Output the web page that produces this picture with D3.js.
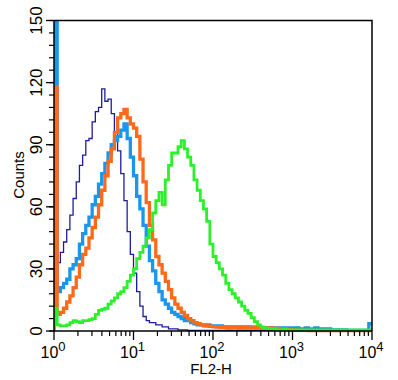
<!DOCTYPE html>
<html>
<head>
<meta charset="utf-8">
<script src="https://cdn.jsdelivr.net/npm/d3@7/dist/d3.min.js"></script>
<style>
  html, body { margin: 0; padding: 0; background: #fff; }
  svg { display: block; }
  text { font-family: "Liberation Sans", Arial, Helvetica, sans-serif; fill: #000; }
</style>
</head>
<body>
<div id="chart"></div>
<script>
// ---------- DATA ----------
// 100 histogram bins, each 0.04 decade wide, from 10^0 to 10^4 (FL2-H)
const binCount = 100;
const binDecade = 0.04;
const xTickExponents = [0, 1, 2, 3, 4];
const yTickValues = [0, 30, 60, 90, 120, 150];

const navySeries = [
  60, 33, 38, 43, 49, 56, 64, 72, 80, 85,
  92, 93, 101, 106, 108, 117, 111, 112, 105, 96,
  87, 76, 63, 48, 37, 28, 19, 12, 7, 5,
  4, 4, 3, 3, 2, 2, 1, 1, 1, 0.5,
  0.5, 0.5, 0.3, 0.3, 0.3, 0.3, 0.3, 0.3, 0.3, 0.3,
  0.3, 0.3, 0.3, 0.3, 0.3, 0.3, 0.3, 0.3, 0.3, 0.3,
  0.3, 0.3, 0.3, 0.3, 0.3, 0.3, 0.3, 0.3, 0.3, 0.3,
  0.2, 0.2, 0.2, 0.2, 0.2, 0.2, 0.2, 0.2, 0.2, 0.2,
  0.2, 0.2, 0.2, 0.2, 0.2, 0.2, 0.2, 0.2, 0.2, 0.2,
  0.2, 0.2, 0.2, 0.2, 0.2, 0.2, 0.2, 0.2, 0.2, 0.2
];

const blueSeries = [
  160, 19, 21, 23, 25, 30, 32, 35, 42, 47,
  51, 55, 61, 65, 71, 76, 81, 86, 90, 92,
  94, 97, 100, 93, 84, 75, 65, 59, 51, 41,
  34, 29, 23, 19, 15, 13, 11, 9, 8, 7,
  6, 5, 5, 4, 3.5, 3, 3, 2.5, 3, 2.5,
  2.5, 2, 2.5, 2, 2, 1.5, 2, 2, 1.5, 2,
  1.5, 2, 1.5, 1.5, 2, 1.5, 1.5, 1, 1.5, 1.5,
  1.5, 1, 1.5, 1, 1.5, 1, 1.5, 1, 1, 1.5,
  1, 1, 1.5, 1, 1, 0.5, 1, 0.5, 0.5, 0.5,
  0.5, 0.5, 0.3, 0.3, 0.3, 0.3, 0.3, 0.3, 0.3, 3.5
];

const orangeSeries = [
  118, 8, 9, 11, 14, 17, 21, 26, 32, 37,
  40, 45, 50, 55, 61, 68, 75, 82, 88, 96,
  103, 105, 107, 103, 100, 98, 94, 83, 72, 62,
  51, 44, 36, 32, 28, 24, 20, 16, 13, 11,
  9, 7.5, 6, 5, 4, 3.5, 3, 2.7, 2.5, 2.2,
  2, 2, 1.8, 2, 1.5, 2, 1.8, 1.5, 2, 1.5,
  1.8, 1.5, 1.5, 2, 1.5, 1.5, 1.5, 1.2, 1.5, 1.2,
  1.2, 1, 1, 0.8, 0.6, 0.5, 0.3, 0.3, 0.3, 0.3,
  0.2, 0.2, 0.2, 0.2, 0.2, 0.2, 0.2, 0.2, 0.2, 0.2,
  0.2, 0.2, 0.2, 0.2, 0.2, 0.2, 0.2, 0.2, 0.2, 0.2
];

const greenSeries = [
  11, 3, 2.5, 2.5, 3, 4, 5, 4.5, 4, 5,
  5, 5.5, 6, 8, 10, 10.5, 11, 13, 14.5, 16,
  18, 19, 21, 24, 27, 30, 35, 38, 41, 45,
  49, 57, 63, 67, 61, 73, 80, 86, 86, 89,
  92, 88, 84, 80, 73, 68, 63, 59, 53, 42,
  36, 33, 30, 27, 23, 20, 18, 16, 14, 12,
  10, 8.5, 6.5, 4.5, 3, 2, 1.5, 1.2, 1, 1,
  0.5, 0.5, 0.8, 0.5, 0.5, 0.5, 0.5, 0.5, 0.5, 0.5,
  0.5, 0.5, 0.5, 0.5, 0.5, 0.5, 0.5, 0.5, 0.5, 0.5,
  0.5, 0.5, 0.5, 0.5, 0.5, 0.5, 0.5, 0.5, 0.5, 0.5
];

const seriesList = [
  { name: "navy", values: navySeries, color: "#1c1ca0", width: 1.3 },
  { name: "blue", values: blueSeries, color: "#1a96ee", width: 3.3 },
  { name: "orange", values: orangeSeries, color: "#ff6a1a", width: 3.3 },
  { name: "green", values: greenSeries, color: "#2cf02c", width: 2.8 }
];

// ---------- LAYOUT ----------
const W = 398, H = 380;
const pLeft = 54, pRight = 372, pTop = 20.5, pBottom = 331;

const svg = d3.select("#chart").append("svg")
  .attr("width", W).attr("height", H);

const x = d3.scaleLog().domain([1, 10000]).range([pLeft, pRight]);
const y = d3.scaleLinear().domain([0, 150]).range([pBottom, pTop]);

const edges = d3.range(binCount + 1).map(i => Math.pow(10, i * binDecade));

svg.append("defs").append("clipPath").attr("id", "plotclip")
  .append("rect").attr("x", pLeft).attr("y", pTop)
  .attr("width", pRight - pLeft).attr("height", pBottom - pTop + 2);

const line = d3.line()
  .x(d => x(d[0]))
  .y(d => y(d[1]))
  .curve(d3.curveStepAfter);

const plot = svg.append("g").attr("clip-path", "url(#plotclip)");
seriesList.forEach(s => {
  const pts = [[edges[0], 0]];
  s.values.forEach((v, i) => pts.push([edges[i], v]));
  pts.push([edges[binCount], s.values[binCount - 1]]);
  plot.append("path")
    .attr("d", line(pts))
    .attr("fill", "none")
    .attr("stroke", s.color)
    .attr("stroke-width", s.width)
    .attr("stroke-linejoin", "miter");
});

// frame (top & right)
svg.append("path")
  .attr("d", `M${pLeft},${pTop}H${pRight}V${pBottom}`)
  .attr("fill", "none").attr("stroke", "#000").attr("stroke-width", 1.5);

// ---------- Y AXIS ----------
const yMinor = d3.range(0, 151, 6);
const yAxisG = svg.append("g").attr("transform", `translate(${pLeft},0)`);
yAxisG.append("line").attr("x1", 0).attr("x2", 0).attr("y1", pTop).attr("y2", pBottom + 1)
  .attr("stroke", "#000").attr("stroke-width", 1.5);
yAxisG.selectAll("line.minor").data(yMinor).enter().append("line")
  .attr("class", "minor")
  .attr("x1", -5).attr("x2", 0)
  .attr("y1", d => y(d)).attr("y2", d => y(d))
  .attr("stroke", "#000").attr("stroke-width", 1.2);
yAxisG.selectAll("line.major").data(yTickValues).enter().append("line")
  .attr("class", "major")
  .attr("x1", -8).attr("x2", 0)
  .attr("y1", d => y(d)).attr("y2", d => y(d))
  .attr("stroke", "#000").attr("stroke-width", 1.3);
yAxisG.selectAll("text").data(yTickValues).enter().append("text")
  .attr("transform", d => `translate(-12,${y(d)}) rotate(-90)`)
  .attr("text-anchor", "middle")
  .attr("font-size", 17)
  .text(d => d);

svg.append("text")
  .attr("transform", `translate(24,175) rotate(-90)`)
  .attr("text-anchor", "middle")
  .attr("font-size", 15)
  .text("Counts");

// ---------- X AXIS ----------
const xAxisG = svg.append("g").attr("transform", `translate(0,${pBottom})`);
xAxisG.append("line").attr("x1", pLeft - 1).attr("x2", pRight).attr("y1", 0).attr("y2", 0)
  .attr("stroke", "#000").attr("stroke-width", 1.5);
const xMinor = [];
for (let e = 0; e < 4; e++) for (let m = 2; m <= 9; m++) xMinor.push(m * Math.pow(10, e));
xAxisG.selectAll("line.minor").data(xMinor).enter().append("line")
  .attr("class", "minor")
  .attr("x1", d => x(d)).attr("x2", d => x(d))
  .attr("y1", 0).attr("y2", 5)
  .attr("stroke", "#000").attr("stroke-width", 1.2);
xAxisG.selectAll("line.major").data(xTickExponents).enter().append("line")
  .attr("class", "major")
  .attr("x1", d => x(Math.pow(10, d))).attr("x2", d => x(Math.pow(10, d)))
  .attr("y1", 0).attr("y2", 9)
  .attr("stroke", "#000").attr("stroke-width", 1.3);
const xl = xAxisG.selectAll("text").data(xTickExponents).enter().append("text")
  .attr("x", d => x(Math.pow(10, d)) - 1)
  .attr("y", 27)
  .attr("text-anchor", "middle")
  .attr("font-size", 16);
xl.append("tspan").text("10");
xl.append("tspan").attr("dy", -7).attr("font-size", 13).text(d => d);

svg.append("text")
  .attr("x", 211).attr("y", 374)
  .attr("text-anchor", "middle")
  .attr("font-size", 15)
  .text("FL2-H");
</script>
</body>
</html>
